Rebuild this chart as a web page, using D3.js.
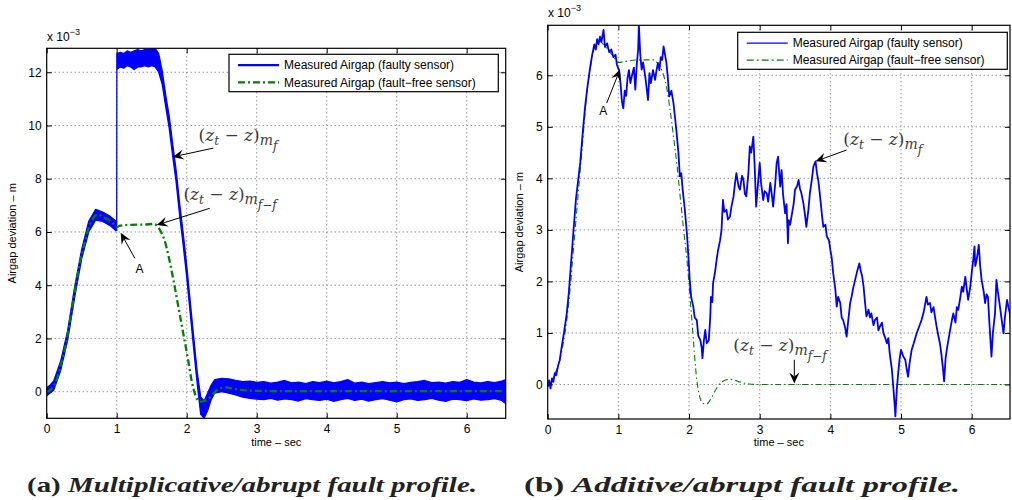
<!DOCTYPE html>
<html>
<head>
<meta charset="utf-8">
<script src="https://cdn.jsdelivr.net/npm/d3@7"></script>
<style>
  body { margin: 0; background: #fff; }
  svg { display: block; font-family: "Liberation Sans", Arial, sans-serif; }
</style>
</head>
<body>
<div id="graph"></div>
<script>
// ---- data (values in units of 1e-3 m, time in sec) ----
const xTicks = [0, 1, 2, 3, 4, 5, 6];
const yTicksA = [0, 2, 4, 6, 8, 10, 12];
const yTicksB = [0, 1, 2, 3, 4, 5, 6];

const legendLabels = ["Measured Airgap (faulty sensor)", "Measured Airgap (fault\u2212free sensor)"];
const captions = ["Multiplicative/abrupt fault profile.", "Additive/abrupt fault profile."];

// (a) fault-free sensor
const leftFreeT = [0,0.05,0.1,0.15,0.2,0.25,0.3,0.35,0.4,0.45,0.5,0.55,0.6,0.65,0.7,0.75,0.8,0.85,0.9,0.95,1.0,1.05,1.2,1.4,1.53,1.58,1.63,1.68,1.74,1.81,1.88,1.95,2.02,2.07,2.12,2.19,2.26,2.33,2.4,2.48,2.56,2.65,2.8,3.0,3.5,4.0,4.5,5.0,5.5,6.0,6.56];
const leftFreeV = [0,0.06,0.22,0.5,0.98,1.5,2.15,2.95,3.75,4.5,5.15,5.7,6.15,6.45,6.62,6.64,6.58,6.5,6.42,6.32,6.18,6.24,6.27,6.28,6.3,6.22,6.02,5.72,5.1,4.2,3.2,2.2,1.2,0.42,-0.1,-0.38,-0.34,-0.22,-0.02,0.13,0.16,0.12,0.06,0.03,0.02,0.02,0.02,0.02,0.02,0.02,0.02];

// (a) faulty sensor, drawn as noise band (low / high envelope)
const leftFaultT  = [0,0.05,0.1,0.2,0.3,0.4,0.5,0.6,0.7,0.8,0.9,0.99,1.0,1.002,1.05,1.1,1.15,1.2,1.25,1.3,1.35,1.4,1.45,1.5,1.55,1.6,1.65,1.7,1.75,1.8,1.85,1.9,1.95,2.0,2.05,2.1,2.15,2.2,2.25,2.3,2.35,2.4,2.5,2.6,2.7,2.8,2.9,3.0,3.1,3.2,3.3,3.4,3.5,3.6,3.7,3.8,3.9,4.0,4.1,4.2,4.3,4.4,4.5,4.6,4.7,4.8,4.9,5.0,5.1,5.2,5.3,5.4,5.5,5.6,5.7,5.8,5.9,6.0,6.1,6.2,6.3,6.4,6.5,6.56];
const leftFaultLo = [-0.15,-0.05,0.05,0.8,1.95,3.55,5.0,6.0,6.45,6.4,6.25,6.05,6.05,12.1,12.2,12.15,12.25,12.2,12.1,12.2,12.2,12.25,12.2,12.25,12.2,12.0,11.55,10.7,9.9,8.85,7.85,6.6,5.5,4.3,2.95,1.6,0.3,-0.85,-1.0,-0.7,-0.3,-0.05,0.0,-0.05,-0.12,-0.2,-0.25,-0.28,-0.3,-0.25,-0.32,-0.27,-0.3,-0.35,-0.26,-0.3,-0.33,-0.28,-0.36,-0.3,-0.25,-0.33,-0.28,-0.35,-0.3,-0.26,-0.32,-0.38,-0.3,-0.27,-0.33,-0.3,-0.25,-0.32,-0.36,-0.28,-0.3,-0.34,-0.27,-0.32,-0.3,-0.26,-0.33,-0.45];
const leftFaultHi = [0.15,0.25,0.4,1.15,2.3,3.95,5.35,6.4,6.85,6.75,6.6,6.4,6.35,12.7,12.75,12.7,12.8,12.75,12.8,12.85,12.8,12.85,12.85,12.9,12.9,12.7,12.05,11.15,10.35,9.3,8.3,7.05,5.95,4.75,3.4,2.05,0.75,-0.2,-0.35,-0.05,0.25,0.45,0.5,0.48,0.42,0.38,0.4,0.35,0.38,0.32,0.36,0.42,0.33,0.36,0.3,0.38,0.34,0.4,0.33,0.38,0.45,0.32,0.36,0.3,0.34,0.38,0.33,0.36,0.3,0.35,0.38,0.42,0.34,0.36,0.32,0.38,0.35,0.45,0.36,0.33,0.38,0.34,0.4,0.45];

// (b) fault-free sensor
const rightFreeT = [0,0.05,0.1,0.17,0.22,0.27,0.32,0.36,0.41,0.46,0.5,0.55,0.6,0.64,0.69,0.73,0.79,0.85,0.92,1.0,1.1,1.3,1.5,1.56,1.62,1.68,1.73,1.78,1.83,1.87,1.92,1.97,2.04,2.11,2.16,2.2,2.25,2.3,2.37,2.44,2.51,2.58,2.65,2.72,2.85,2.96,3.5,4.0,4.5,5.0,5.5,6.0,6.56];
const rightFreeV = [0,0.05,0.2,0.47,0.8,1.25,1.9,2.55,3.35,4.16,4.8,5.59,6.1,6.43,6.62,6.66,6.6,6.5,6.38,6.25,6.27,6.3,6.3,6.22,6.08,5.78,5.35,4.81,4.25,3.71,3.05,2.42,1.25,0.09,-0.28,-0.37,-0.38,-0.3,-0.12,0.02,0.08,0.1,0.08,0.05,0.01,0,0,0,0,0,0,0,0];

// (b) faulty sensor
const rightFaultT = [0,0.02,0.04,0.06,0.08,0.1,0.12,0.15,0.17,0.2,0.23,0.27,0.3,0.33,0.36,0.4,0.43,0.46,0.5,0.53,0.56,0.6,0.63,0.66,0.68,0.7,0.72,0.74,0.76,0.79,0.81,0.84,0.87,0.9,0.93,0.96,0.98,1.01,1.03,1.05,1.07,1.09,1.11,1.13,1.15,1.17,1.19,1.22,1.24,1.26,1.28,1.29,1.31,1.33,1.35,1.38,1.4,1.42,1.44,1.46,1.49,1.52,1.54,1.56,1.58,1.6,1.62,1.64,1.66,1.68,1.7,1.72,1.75,1.78,1.8,1.82,1.85,1.87,1.89,1.91,1.94,1.97,1.99,2.01,2.03,2.06,2.08,2.11,2.13,2.16,2.18,2.19,2.21,2.23,2.25,2.28,2.3,2.31,2.33,2.34,2.37,2.39,2.41,2.44,2.46,2.48,2.5,2.53,2.55,2.58,2.6,2.63,2.65,2.67,2.7,2.72,2.75,2.77,2.79,2.81,2.84,2.86,2.88,2.91,2.93,2.95,2.97,3.0,3.02,3.05,3.07,3.1,3.12,3.15,3.17,3.19,3.22,3.24,3.26,3.29,3.31,3.33,3.36,3.38,3.4,3.41,3.43,3.45,3.48,3.5,3.53,3.55,3.57,3.59,3.62,3.64,3.66,3.69,3.71,3.74,3.76,3.79,3.81,3.83,3.85,3.88,3.9,3.93,3.95,3.98,4.0,4.02,4.04,4.07,4.09,4.11,4.14,4.16,4.18,4.21,4.23,4.25,4.28,4.3,4.32,4.35,4.38,4.41,4.43,4.45,4.47,4.49,4.51,4.54,4.56,4.58,4.61,4.63,4.66,4.68,4.7,4.73,4.75,4.77,4.8,4.82,4.84,4.87,4.89,4.91,4.92,4.94,4.96,4.98,5.0,5.03,5.06,5.08,5.1,5.12,5.15,5.18,5.22,5.25,5.29,5.32,5.34,5.36,5.38,5.41,5.43,5.46,5.48,5.5,5.53,5.55,5.57,5.59,5.61,5.63,5.65,5.67,5.7,5.72,5.74,5.77,5.79,5.81,5.84,5.86,5.88,5.91,5.93,5.95,5.98,6.0,6.02,6.04,6.05,6.07,6.09,6.1,6.12,6.14,6.17,6.19,6.21,6.23,6.25,6.28,6.3,6.33,6.35,6.37,6.4,6.42,6.45,6.47,6.5,6.52,6.54,6.56];
const rightFaultV = [-0.05,0.08,-0.08,0.12,0.05,0.22,0.18,0.38,0.47,0.75,1.0,1.38,1.8,2.35,2.9,3.6,3.95,4.3,4.95,5.4,5.75,6.15,6.4,6.6,6.5,6.7,6.6,6.75,6.65,6.88,6.55,6.62,6.45,6.5,6.35,6.4,6.2,6.1,5.85,5.5,5.36,5.7,5.6,5.95,6.1,5.85,5.98,6.15,5.72,6.2,6.5,6.98,6.4,6.11,6.25,5.98,5.75,5.52,6.04,5.85,6.1,5.91,6.1,6.24,6.1,6.35,6.3,6.56,6.4,6.24,5.95,5.59,5.7,5.46,5.2,4.94,4.5,4.04,4.1,3.78,3.4,2.93,2.5,2.03,1.7,1.51,1.3,1.25,0.95,0.86,0.7,0.51,0.85,1.06,0.8,0.86,1.3,1.7,1.6,1.96,2.2,2.42,2.6,2.8,3.0,3.58,3.35,3.39,3.2,3.26,3.45,3.65,3.9,4.1,3.85,3.78,4.05,3.97,3.7,3.65,4.1,4.62,4.5,4.81,4.2,3.45,3.8,4.3,3.9,3.58,3.75,3.71,3.55,3.91,3.7,3.45,3.9,4.3,4.42,3.84,4.16,3.7,3.32,3.5,2.74,3.19,3.1,3.26,3.5,3.78,3.85,3.97,3.8,3.71,3.5,3.3,3.06,3.4,3.71,4.0,4.23,4.33,4.1,3.95,3.71,3.3,3.06,3.1,2.87,2.8,2.61,2.45,2.16,1.85,1.51,1.7,1.58,1.3,1.25,1.1,0.93,1.2,1.58,1.7,1.85,2.03,2.2,2.35,2.2,2.1,1.9,1.6,1.32,1.45,1.3,1.38,1.15,1.25,1.3,1.05,1.12,1.2,1.0,0.93,0.8,0.9,0.6,0.3,-0.04,-0.4,-0.62,-0.1,0.22,0.5,0.67,0.55,0.48,0.3,0.15,0.4,0.67,0.8,0.99,1.1,1.25,1.4,1.55,1.7,1.55,1.58,1.4,1.5,1.32,1.15,0.93,0.8,0.6,0.35,0.06,0.5,0.7,0.86,1.1,1.25,1.38,1.2,1.5,1.45,1.7,1.9,1.8,2.09,1.85,1.64,1.9,2.16,2.4,2.68,2.3,2.42,2.6,2.71,2.3,2.03,1.8,1.58,1.75,1.7,1.2,0.54,1.0,1.38,2.03,1.8,1.51,1.3,0.99,1.3,1.64,1.5,1.38,0.99];

// annotation arrows in data units: [tailT, tailV, tipT, tipV]
const leftArrows  = [[2.38, 9.15, 1.80, 8.82], [2.33, 6.89, 1.571, 6.26], [1.26, 5.01, 1.057, 5.97]];
const rightArrows = [[4.23, 4.55, 3.79, 4.33], [3.49, 0.48, 3.49, 0.02], [0.835, 5.46, 1.023, 6.11]];

// ---- drawing ----
const svg = d3.select("#graph").append("svg").attr("width", 1012).attr("height", 500);

const blue = "#0000ff", green = "#008000";

function panel(o) {
  const x = d3.scaleLinear().domain(o.xDom).range([o.left, o.right]);
  const y = d3.scaleLinear().domain(o.yDom).range([o.bottom, o.top]);
  const g = svg.append("g");

  svg.append("clipPath").attr("id", "clip" + o.id)
     .append("rect").attr("x", o.left).attr("y", o.top)
     .attr("width", o.right - o.left).attr("height", o.bottom - o.top);

  // dotted grid
  g.append("g").selectAll("line").data(xTicks.filter(d => d > 0)).join("line")
   .attr("x1", d => x(d)).attr("x2", d => x(d)).attr("y1", o.top).attr("y2", o.bottom)
   .attr("stroke", "#555").attr("stroke-width", 0.9).attr("stroke-dasharray", "1,3");
  g.append("g").selectAll("line").data(o.yTicks).join("line")
   .attr("x1", o.left).attr("x2", o.right).attr("y1", d => y(d)).attr("y2", d => y(d))
   .attr("stroke", "#555").attr("stroke-width", 0.9).attr("stroke-dasharray", "1,3");

  // ticks on all four sides, pointing inward
  const fs = "12px";
  const bx = g.append("g").attr("transform", "translate(0," + o.bottom + ")")
   .call(d3.axisBottom(x).tickValues(xTicks).tickFormat(d3.format("d")).tickSizeInner(-5).tickSizeOuter(0).tickPadding(6));
  const tx = g.append("g").attr("transform", "translate(0," + o.top + ")")
   .call(d3.axisTop(x).tickValues(xTicks).tickSizeInner(-5).tickSizeOuter(0).tickFormat(""));
  const ly = g.append("g").attr("transform", "translate(" + o.left + ",0)")
   .call(d3.axisLeft(y).tickValues(o.yTicks).tickFormat(d3.format("d")).tickSizeInner(-5).tickSizeOuter(0).tickPadding(5));
  const ry = g.append("g").attr("transform", "translate(" + o.right + ",0)")
   .call(d3.axisRight(y).tickValues(o.yTicks).tickSizeInner(-5).tickSizeOuter(0).tickFormat(""));
  [bx, tx, ly, ry].forEach(a => {
    a.select(".domain").remove();
    a.selectAll("line").attr("stroke", "#000");
    a.selectAll("text").attr("fill", "#000").style("font-size", fs).style("font-family", "'Liberation Sans', Arial, sans-serif");
  });

  return { x, y, g, clip: "url(#clip" + o.id + ")" };
}

function frame(o) {
  svg.append("rect").attr("x", o.left).attr("y", o.top)
     .attr("width", o.right - o.left).attr("height", o.bottom - o.top)
     .attr("fill", "none").attr("stroke", "#000").attr("stroke-width", 1.2);
}

function arrow(g, x1, y1, x2, y2) {
  const a = Math.atan2(y2 - y1, x2 - x1), L = 11, W = 5, N = 7;
  const ux = Math.cos(a), uy = Math.sin(a);
  const bx = x2 - ux * L, by = y2 - uy * L;
  const nx = x2 - ux * N, ny = y2 - uy * N;
  const p = [[x2, y2], [bx - uy * W, by + ux * W], [nx, ny], [bx + uy * W, by - ux * W]];
  g.append("line").attr("x1", x1).attr("y1", y1).attr("x2", nx).attr("y2", ny)
   .attr("stroke", "#000").attr("stroke-width", 1);
  g.append("path").attr("d", "M" + p.join("L") + "Z").attr("fill", "#000");
}

function mathLabel(g, x, y, tail) {
  const t = g.append("text").attr("x", x).attr("y", y).attr("fill", "#3c3c3c")
    .style("font-family", "'DejaVu Serif', serif").style("font-size", "17px");
  t.append("tspan").text("(");
  t.append("tspan").style("font-style", "italic").text("z");
  t.append("tspan").style("font-style", "italic").style("font-size", "12px").attr("dy", 4).text("t");
  t.append("tspan").attr("dy", -4).text(" \u2212 ");
  t.append("tspan").style("font-style", "italic").text("z");
  t.append("tspan").text(")");
  t.append("tspan").style("font-style", "italic").style("font-size", "14px").attr("dy", 4).text("m");
  t.append("tspan").style("font-style", "italic").style("font-size", "12px").attr("dy", 5).text(tail);
}

function legend(o, thick) {
  const g = svg.append("g");
  g.append("rect").attr("x", o.lx).attr("y", o.ly).attr("width", o.lw).attr("height", o.lh)
   .attr("fill", "#fff").attr("stroke", "#000").attr("stroke-width", 1.2);
  const rows = [o.ly + o.lh * 0.29, o.ly + o.lh * 0.75];
  g.append("line").attr("x1", o.lx + 9).attr("x2", o.lx + 50).attr("y1", rows[0]).attr("y2", rows[0])
   .attr("stroke", blue).attr("stroke-width", thick ? 2.2 : 1.2);
  g.append("line").attr("x1", o.lx + 9).attr("x2", o.lx + 50).attr("y1", rows[1]).attr("y2", rows[1])
   .attr("stroke", green).attr("stroke-width", thick ? 2.2 : 1.2).attr("stroke-dasharray", "7,3,2,3");
  legendLabels.forEach((s, i) => {
    g.append("text").attr("x", o.lx + 55).attr("y", rows[i] + 4.3).text(s)
     .style("font-size", "12px").attr("fill", "#000");
  });
}

function sci(x, y) {
  const t = svg.append("text").attr("x", x).attr("y", y).style("font-size", "12px").attr("fill", "#000");
  t.append("tspan").text("x 10");
  t.append("tspan").attr("dy", -6).style("font-size", "9px").text("\u22123");
}

function axisLabels(o) {
  svg.append("text").attr("x", (o.left + o.right) / 2).attr("y", 446).attr("text-anchor", "middle")
     .style("font-size", "11px").text("time \u2013 sec");
  svg.append("text").attr("transform", "translate(" + o.ylx + "," + (o.top + o.bottom) / 2 + ") rotate(-90)")
     .attr("text-anchor", "middle").style("font-size", "11px").text("Airgap deviation \u2013 m");
}

function caption(x, tag, s, len) {
  const t = svg.append("text").attr("x", x).attr("y", 492)
    .style("font-family", "'Liberation Serif', serif").style("font-size", "21px").style("font-weight", "bold")
    .attr("fill", "#222").attr("textLength", len).attr("lengthAdjust", "spacingAndGlyphs");
  t.append("tspan").text(tag + " ");
  t.append("tspan").style("font-style", "italic").text(s);
}

// ----- panel (a) -----
const A = { id: "a", left: 46.7, right: 505.7, top: 48.3, bottom: 418.3, xDom: [0, 6.557], yDom: [-1, 12.9],
            yTicks: yTicksA, lx: 229, ly: 54.3, lw: 269.3, lh: 37.4, ylx: 16 };
const pa = panel(A);
const la = pa.g.append("g").attr("clip-path", pa.clip);

const leftFault = leftFaultT.map((t, i) => ({ t, lo: leftFaultLo[i], hi: leftFaultHi[i] }));
la.append("path").datum(leftFault)
  .attr("d", d3.area().x(d => pa.x(d.t)).y0(d => pa.y(d.lo)).y1(d => pa.y(d.hi)))
  .attr("fill", blue).attr("stroke", blue).attr("stroke-width", 1.3).attr("stroke-linejoin", "round");

const leftFree = leftFreeT.map((t, i) => ({ t, v: leftFreeV[i] }));
la.append("path").datum(leftFree)
  .attr("d", d3.line().x(d => pa.x(d.t)).y(d => pa.y(d.v)).curve(d3.curveMonotoneX))
  .attr("fill", "none").attr("stroke", green).attr("stroke-width", 2.3).attr("stroke-dasharray", "7,3,2,3");

frame(A);
legend(A, true);
sci(47, 41);
axisLabels(A);

const annA = svg.append("g");
leftArrows.forEach(a => arrow(annA, pa.x(a[0]), pa.y(a[1]), pa.x(a[2]), pa.y(a[3])));
mathLabel(annA, pa.x(2.17), pa.y(9.42), "f");
mathLabel(annA, pa.x(1.953), pa.y(7.2), "f\u2212f");
annA.append("text").attr("x", pa.x(1.326)).attr("y", pa.y(4.45)).attr("text-anchor", "middle")
  .style("font-size", "12px").text("A");

// ----- panel (b) -----
const B = { id: "b", left: 547.7, right: 1010, top: 25.3, bottom: 419, xDom: [0, 6.542], yDom: [-0.67, 6.97],
            yTicks: yTicksB, lx: 737.7, ly: 32.3, lw: 269.6, lh: 37, ylx: 523 };
const pb = panel(B);
const lb = pb.g.append("g").attr("clip-path", pb.clip);

const rightFree = rightFreeT.map((t, i) => ({ t, v: rightFreeV[i] }));
lb.append("path").datum(rightFree)
  .attr("d", d3.line().x(d => pb.x(d.t)).y(d => pb.y(d.v)).curve(d3.curveMonotoneX))
  .attr("fill", "none").attr("stroke", green).attr("stroke-width", 1.1).attr("stroke-dasharray", "6,3,1.5,3");

const rightFault = rightFaultT.map((t, i) => ({ t, v: rightFaultV[i] }));
lb.append("path").datum(rightFault)
  .attr("d", d3.line().x(d => pb.x(d.t)).y(d => pb.y(d.v)))
  .attr("fill", "none").attr("stroke", blue).attr("stroke-width", 1.8).attr("stroke-linejoin", "round");

frame(B);
legend(B, false);
sci(548, 17);
axisLabels(B);

const annB = svg.append("g");
rightArrows.forEach(a => arrow(annB, pb.x(a[0]), pb.y(a[1]), pb.x(a[2]), pb.y(a[3])));
mathLabel(annB, pb.x(4.183), pb.y(4.65), "f");
mathLabel(annB, pb.x(2.627), pb.y(0.65), "f\u2212f");
annB.append("text").attr("x", pb.x(0.787)).attr("y", pb.y(5.23)).attr("text-anchor", "middle")
  .style("font-size", "12px").text("A");

// ----- captions -----
caption(27, "(a)", captions[0], 450);
caption(524, "(b)", captions[1], 436);
</script>
</body>
</html>
